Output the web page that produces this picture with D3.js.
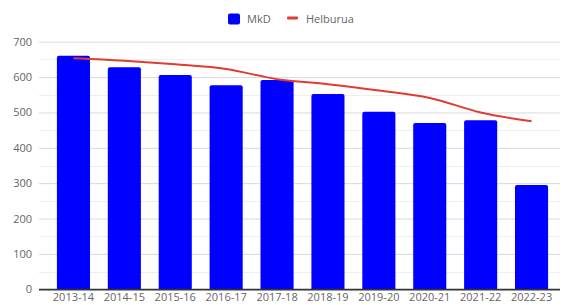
<!DOCTYPE html>
<html>
<head>
<meta charset="utf-8">
<script src="https://cdn.jsdelivr.net/npm/d3@7"></script>
<style>
  body { margin: 0; background: #fff; }
  svg { display: block; font-family: "Open Sans", sans-serif; }
</style>
</head>
<body>
<div id="chart"></div>
<script>
var years = ["2013-14", "2014-15", "2015-16", "2016-17", "2017-18", "2018-19", "2019-20", "2020-21", "2021-22", "2022-23"];
var mkd = [660, 628, 606, 577, 592, 552, 502, 470, 478, 295];
var helburua = [653, 646, 636, 623, 594, 580, 562, 541, 500, 475];
var yTicks = [0, 100, 200, 300, 400, 500, 600, 700];

var width = 565,
    height = 305;

var svg = d3.select("#chart")
            .append("svg")
            .attr("width", width)
            .attr("height", height);

var x = d3.scaleBand()
          .domain(years)
          .range([48, 557])
          .paddingInner(0.35)
          .paddingOuter(0.175);

var y = d3.scaleLinear()
          .domain([0, 700])
          .range([289.3, 41.7]);

// minor grid at the 50s
svg.append("g")
   .selectAll("line")
   .data(d3.range(50, 700, 100))
   .enter().append("line")
   .attr("x1", 39).attr("x2", 560)
   .attr("y1", function(d) { return Math.round(y(d)) + 0.5; })
   .attr("y2", function(d) { return Math.round(y(d)) + 0.5; })
   .style("stroke", "#eeeeee")
   .style("stroke-width", 1);

// y axis with major grid
var yAxis = svg.append("g")
   .attr("transform", "translate(39,0)")
   .call(d3.axisLeft(y).tickValues(yTicks).tickSize(-521).tickPadding(7));
yAxis.select(".domain").remove();
yAxis.selectAll(".tick line")
     .style("stroke", function(d) { return d === 0 ? "#333" : "#d9d9d9"; })
     .style("stroke-width", function(d) { return d === 0 ? 1.2 : 1; });
yAxis.selectAll(".tick text")
     .style("font-size", "11px")
     .style("fill", "#666")
     .style("font-family", "'Open Sans', sans-serif");

// bars
svg.append("g")
   .selectAll("path")
   .data(mkd)
   .enter().append("path")
   .attr("d", function(d, i) {
     var x0 = x(years[i]), w = x.bandwidth(), y0 = y(d), y1 = y(0), r = 2;
     return "M" + x0 + "," + y1 + "V" + (y0 + r) + "Q" + x0 + "," + y0 + " " + (x0 + r) + "," + y0 +
            "H" + (x0 + w - r) + "Q" + (x0 + w) + "," + y0 + " " + (x0 + w) + "," + (y0 + r) + "V" + y1 + "Z";
   })
   .style("fill", "#0000ff");

// baseline on top of bars
svg.append("line")
   .attr("x1", 39).attr("x2", 560)
   .attr("y1", y(0)).attr("y2", y(0))
   .style("stroke", "#333")
   .style("stroke-width", 1.2);

// target line
var line = d3.line()
             .x(function(d, i) { return x(years[i]) + x.bandwidth() / 2; })
             .y(function(d) { return y(d); })
             .curve(d3.curveMonotoneX);

svg.append("path")
   .datum(helburua)
   .attr("d", line)
   .style("fill", "none")
   .style("stroke", "#e03c31")
   .style("stroke-width", 2);

// x labels
var xAxis = svg.append("g")
   .attr("transform", "translate(0," + y(0) + ")")
   .call(d3.axisBottom(x).tickSize(0).tickPadding(4));
xAxis.select(".domain").remove();
xAxis.selectAll(".tick text")
     .style("font-size", "11px")
     .style("fill", "#666")
     .style("font-family", "'Open Sans', sans-serif");

// legend
var legend = svg.append("g").style("font-size", "11px").style("fill", "#666");
legend.append("rect")
      .attr("x", 228).attr("y", 13.5)
      .attr("width", 12).attr("height", 11)
      .attr("rx", 2)
      .style("fill", "#0000ff");
legend.append("text")
      .attr("x", 247).attr("y", 23)
      .text("MkD");
legend.append("rect")
      .attr("x", 287).attr("y", 16.5)
      .attr("width", 11).attr("height", 3)
      .attr("rx", 1)
      .style("fill", "#e03c31");
legend.append("text")
      .attr("x", 306).attr("y", 23)
      .text("Helburua");
</script>
</body>
</html>
